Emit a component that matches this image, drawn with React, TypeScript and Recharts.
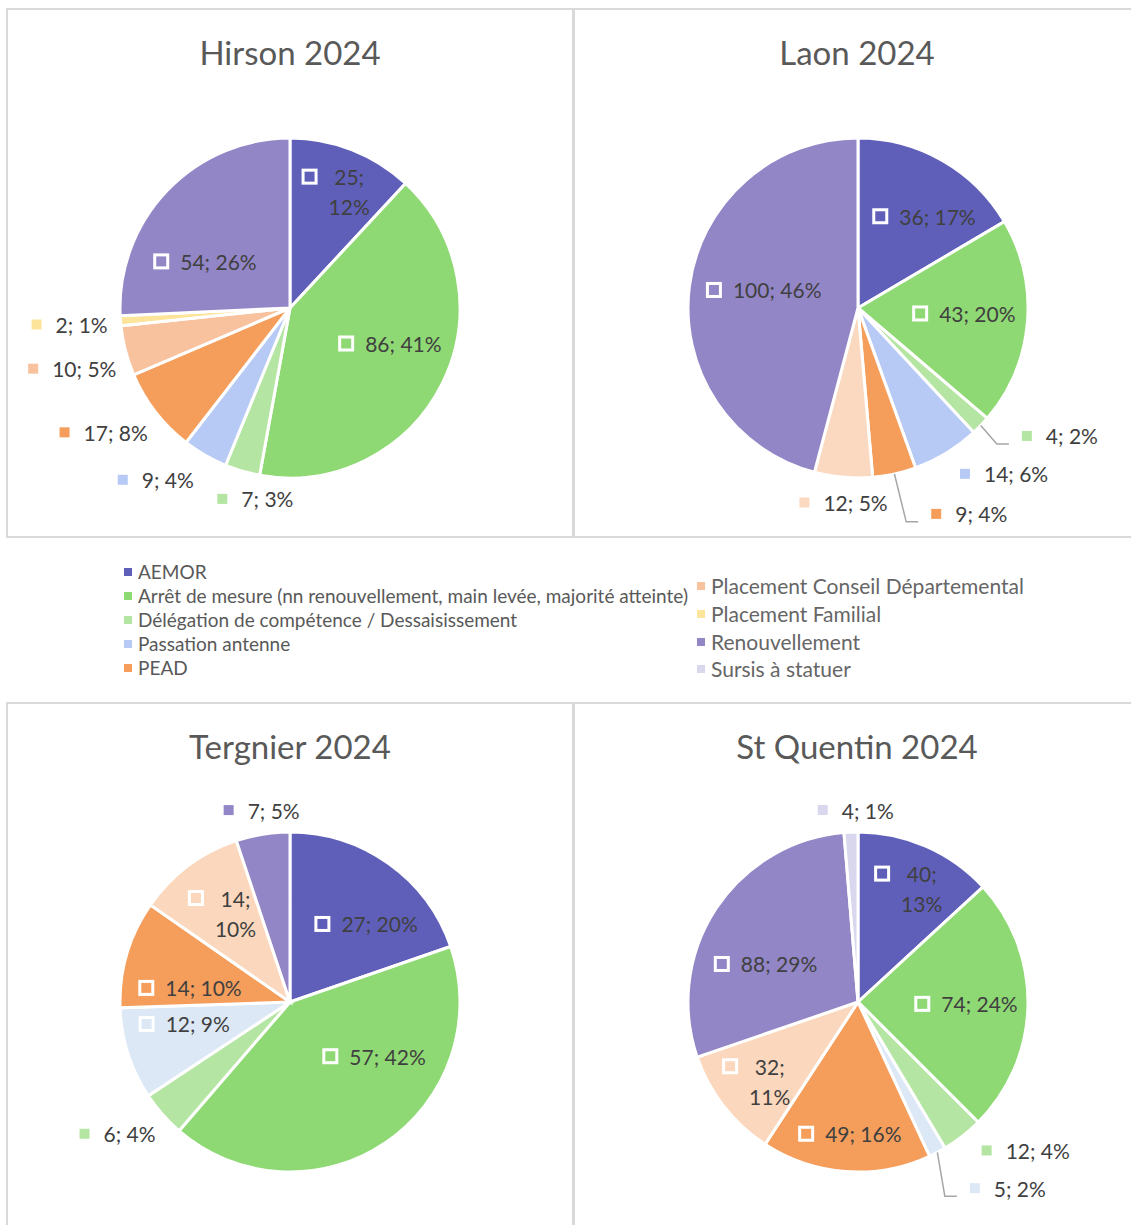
import React from "react";
import { PieChart, Pie, Cell } from "recharts";

const categories = [
  "AEMOR",
  "Arrêt de mesure (nn renouvellement, main levée, majorité atteinte)",
  "Délégation de compétence / Dessaisissement",
  "Passation antenne",
  "PEAD",
  "Placement Conseil Départemental",
  "Placement Familial",
  "Renouvellement",
  "Sursis à statuer",
];

const hirson = [25, 86, 7, 9, 17, 10, 2, 54, 0];
const laon = [36, 43, 4, 14, 9, 12, 0, 100, 0];
const tergnier = [27, 57, 6, 12, 14, 14, 0, 7, 0];
const stQuentin = [40, 74, 12, 5, 49, 32, 0, 88, 4];

const baseColors = [
  "#5f5fba",
  "#8fd974",
  "#b5e5a2",
  "#b7c9f5",
  "#f59e5c",
  "#f8c29e",
  "#fde49b",
  "#9286c6",
  "#d9d7ee",
];

// label placement per category: [radius, angle nudge, mode]
// mode: in = inside, wrap = inside on two lines, out = outside, lead = outside with leader line
type Place = [number, number, string];
const hirsonPlace: Place[] = [
  [125, 0, "wrap"],
  [106, -7, "in"],
  [194, -6, "out"],
  [218, 8, "out"],
  [224, 4, "out"],
  [226, -1, "out"],
  [221, 0, "out"],
  [97, -15, "in"],
  [0, 0, "out"],
];
const laonPlace: Place[] = [
  [113, 6, "in"],
  [106, -2, "in"],
  [239, -11.4, "lead"],
  [221, -10, "out"],
  [234, -16, "lead"],
  [195, -0.7, "out"],
  [0, 0, "out"],
  [96, 3.4, "in"],
  [0, 0, "out"],
];
const tergnierPlace: Place[] = [
  [109, 8.8, "in"],
  [100, -23, "in"],
  [217, 4, "out"],
  [108, 6, "in"],
  [101, -8.4, "in"],
  [112, -0.6, "wrap"],
  [0, 0, "out"],
  [194, 0.8, "out"],
  [0, 0, "out"],
];
const stQuentinPlace: Place[] = [
  [124, 0.2, "wrap"],
  [108, -0.2, "in"],
  [224, -10.6, "out"],
  [239, -11, "lead"],
  [132, -0.6, "in"],
  [129, 0, "wrap"],
  [0, 0, "out"],
  [100, -10.8, "in"],
  [192, 1.7, "out"],
];

// Excel-style percentages: rounded so that they add up to 100
function roundedPercents(values: number[]) {
  const total = values.reduce((a, b) => a + b, 0);
  const raw = values.map((v) => (v / total) * 100);
  const out = raw.map((p) => Math.floor(p));
  let rest = 100 - out.reduce((a, b) => a + b, 0);
  const order = raw
    .map((p, i) => ({ i, rem: p - Math.floor(p) }))
    .filter((o) => values[o.i] > 0)
    .sort((a, b) => b.rem - a.rem);
  for (const o of order) {
    if (rest <= 0) break;
    out[o.i] += 1;
    rest -= 1;
  }
  return out;
}

const LABEL_FONT = "21px Lato";
let ctx: CanvasRenderingContext2D | null = null;
function textWidth(s: string) {
  if (!ctx) ctx = document.createElement("canvas").getContext("2d");
  if (!ctx) return s.length * 11;
  ctx.font = LABEL_FONT;
  return ctx.measureText(s).width;
}

function PiePanel({
  title,
  values,
  places,
  overrides,
  left,
  top,
}: {
  title: string;
  values: number[];
  places: Place[];
  overrides: Record<number, string>;
  left: number;
  top: number;
}) {
  const pcts = roundedPercents(values);
  const rows = categories
    .map((name, i) => ({
      name,
      value: values[i],
      pct: pcts[i],
      color: overrides[i] || baseColors[i],
      place: places[i],
    }))
    .filter((r) => r.value > 0);

  const renderLabel = (props: any) => {
    const { cx, cy, midAngle, value, index, outerRadius } = props;
    const row = rows[index];
    const [r, da, mode] = row.place;
    const th = ((90 - midAngle + da) * Math.PI) / 180;
    const bx = cx + r * Math.sin(th);
    const by = cy - r * Math.cos(th);
    const pct = row.pct;
    const inside = mode === "in" || mode === "wrap";
    const key = inside ? 16 : 10;
    const gap = inside ? 11 : 14;
    const txt = { fill: "#404040", fontSize: 21, fontFamily: "Lato" };
    if (mode === "wrap") {
      const l1 = `${value};`;
      const l2 = `${pct}%`;
      const tw = Math.max(textWidth(l1), textWidth(l2));
      const x0 = bx - (key + gap + tw) / 2;
      const colX = x0 + key + gap + tw / 2;
      return (
        <g>
          <rect x={x0 + 1.5} y={by - 15 - 6.5} width={13} height={13} fill={row.color} stroke="#fff" strokeWidth={3} />
          <text x={colX} y={by - 15} textAnchor="middle" dominantBaseline="central" {...txt}>
            {l1}
          </text>
          <text x={colX} y={by + 15} textAnchor="middle" dominantBaseline="central" {...txt}>
            {l2}
          </text>
        </g>
      );
    }
    const s = `${value}; ${pct}%`;
    const tw = textWidth(s);
    const x0 = bx - (key + gap + tw) / 2;
    let leader = null;
    if (mode === "lead") {
      const t0 = ((90 - midAngle) * Math.PI) / 180;
      const sx = cx + outerRadius * Math.sin(t0);
      const sy = cy - outerRadius * Math.cos(t0);
      leader = (
        <polyline
          points={`${sx},${sy} ${x0 - 25},${by + 8} ${x0 - 13},${by + 8}`}
          fill="none"
          stroke="#a6a6a6"
          strokeWidth={1.5}
        />
      );
    }
    return (
      <g>
        {leader}
        {inside ? (
          <rect x={x0 + 1.5} y={by - 6.5} width={13} height={13} fill={row.color} stroke="#fff" strokeWidth={3} />
        ) : (
          <rect x={x0} y={by - 5} width={10} height={10} fill={row.color} />
        )}
        <text x={x0 + key + gap} y={by} dominantBaseline="central" {...txt}>
          {s}
        </text>
      </g>
    );
  };

  return (
    <div
      style={{
        position: "absolute",
        left,
        top,
        width: 568,
        height: 530,
        border: "2px solid #d9d9d9",
        boxSizing: "border-box",
      }}
    >
      <div
        style={{
          position: "absolute",
          left: 0,
          width: 564,
          top: 22,
          height: 40,
          lineHeight: "40px",
          textAlign: "center",
          fontSize: 33,
          color: "#595959",
          fontFamily: "Lato",
        }}
      >
        {title}
      </div>
      <div style={{ position: "absolute", left: 0, top: 0 }}>
        <PieChart width={566} height={524} margin={{ top: 0, right: 0, bottom: 0, left: 0 }}>
          <Pie
            data={rows}
            dataKey="value"
            nameKey="name"
            cx={left < 100 ? 282 : 283}
            cy={298}
            outerRadius={170}
            startAngle={90}
            endAngle={-270}
            stroke="#fff"
            strokeWidth={3}
            label={renderLabel}
            labelLine={false}
            isAnimationActive={false}
          >
            {rows.map((r) => (
              <Cell key={r.name} fill={r.color} />
            ))}
          </Pie>
        </PieChart>
      </div>
    </div>
  );
}

export default function App() {
  const leftItems = categories.slice(0, 5);
  const rightItems = categories.slice(5);
  return (
    <div
      style={{
        position: "absolute",
        left: 0,
        top: 0,
        width: 1131,
        height: 1225,
        overflow: "hidden",
        background: "#fff",
        fontFamily: "Lato",
      }}
    >
      <PiePanel title="Hirson 2024" values={hirson} places={hirsonPlace} overrides={{}} left={6} top={8} />
      <PiePanel title="Laon 2024" values={laon} places={laonPlace} overrides={{ 5: "#fbd9c0" }} left={573} top={8} />
      <PiePanel
        title="Tergnier 2024"
        values={tergnier}
        places={tergnierPlace}
        overrides={{ 3: "#dce8f6", 5: "#fbd8bd" }}
        left={6}
        top={702}
      />
      <PiePanel
        title="St Quentin 2024"
        values={stQuentin}
        places={stQuentinPlace}
        overrides={{ 3: "#dce8f6", 5: "#fbd8bd" }}
        left={573}
        top={702}
      />
      {leftItems.map((name, i) => (
        <div
          key={name}
          style={{
            position: "absolute",
            left: 124,
            top: 572 + i * 24 - 12,
            height: 24,
            lineHeight: "24px",
            fontSize: 19,
            color: "#595959",
            whiteSpace: "nowrap",
            display: "flex",
            alignItems: "center",
          }}
        >
          <span style={{ width: 8, height: 8, background: baseColors[i], marginRight: 6, display: "inline-block" }} />
          {name}
        </div>
      ))}
      {rightItems.map((name, i) => (
        <div
          key={name}
          style={{
            position: "absolute",
            left: 697,
            top: 586 + i * 27.8 - 14,
            height: 28,
            lineHeight: "28px",
            fontSize: 21,
            color: "#666666",
            whiteSpace: "nowrap",
            display: "flex",
            alignItems: "center",
          }}
        >
          <span style={{ width: 8, height: 8, background: baseColors[i + 5], marginRight: 6, display: "inline-block" }} />
          {name}
        </div>
      ))}
    </div>
  );
}
